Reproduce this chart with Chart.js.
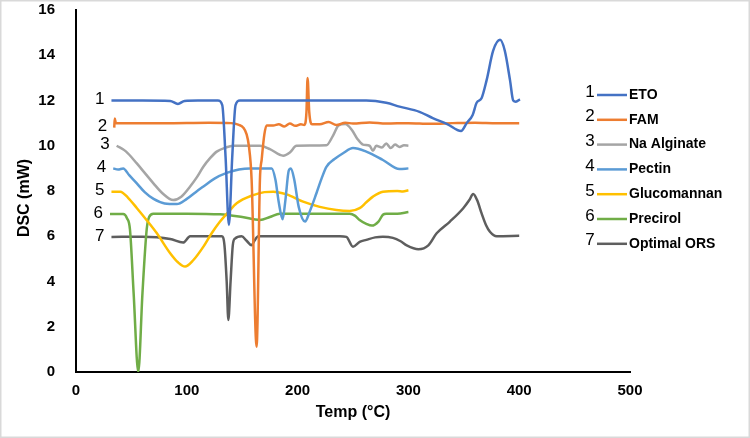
<!DOCTYPE html>
<html lang="en">
<head>
<meta charset="UTF-8">
<title>DSC thermograms</title>
<script src="https://cdn.jsdelivr.net/npm/chart.js@4.4.1/dist/chart.umd.min.js"></script>
<style>
  * { margin: 0; padding: 0; }
  body { background: #fff; width: 750px; height: 438px; overflow: hidden; }
  canvas { display: block; }
</style>
</head>
<body>
<canvas id="dsc" width="750" height="438"></canvas>
<script>
// Sample names and legend numbers
const seriesNames = ['ETO', 'FAM', 'Na Alginate', 'Pectin', 'Glucomannan', 'Precirol', 'Optimal ORS'];
const seriesNumbers = ['1', '2', '3', '4', '5', '6', '7'];
const seriesColors = ['#4472C4', '#ED7D31', '#A5A5A5', '#5B9BD5', '#FFC000', '#70AD47', '#5E5E5E'];

// Temperature (°C) / heat flow (mW)
const etoT = [32, 60, 85, 92, 98, 110, 128, 132, 135, 138, 141, 144, 148, 180, 220, 262, 280, 292, 310, 322, 335, 347.5, 352.6, 358, 361.6, 366, 370.6, 376.5, 382.7, 387, 391.7, 394.6, 397, 400.7];
const etoY = [12, 12, 11.98, 11.85, 11.98, 12, 12, 11.8, 9.5, 6.5, 9.5, 11.8, 12, 12, 12, 12, 11.9, 11.73, 11.5, 11.22, 10.96, 10.65, 11.0, 11.36, 11.9, 12.1, 12.9, 14.2, 14.68, 14.2, 12.9, 12.0, 11.95, 12.05];

const famT = [34.5, 35, 36, 80, 120, 140, 147, 151, 154, 156, 158.5, 163, 166, 167.6, 170, 172, 178, 183, 188, 193, 198, 203, 206, 208, 209, 210.5, 213, 220, 228, 235, 243, 250, 265, 280, 300, 320, 340, 360, 380, 400];
const famY = [10.8, 11.2, 11.0, 11.0, 11.02, 11.0, 10.92, 10.8, 10.5, 10.0, 8.5, 1.12, 8.5, 9.4, 10.5, 10.9, 10.9, 10.95, 10.85, 10.98, 10.88, 10.95, 10.92, 11.5, 13.0, 11.5, 10.95, 10.95, 11.05, 10.92, 11.02, 10.98, 11.03, 10.98, 11.0, 10.97, 11.0, 11.02, 11.0, 11.0];

const algT = [36.7, 45, 54.7, 62, 69.7, 78, 87.7, 95, 103, 109, 114.9, 121, 127, 135, 142, 166, 175, 187, 193, 199, 226, 232, 237, 243, 249, 254, 259, 265, 268, 271, 276, 280, 284, 288, 292, 296, 300];
const algY = [10.0, 9.75, 9.23, 8.8, 8.35, 7.9, 7.6, 7.75, 8.2, 8.6, 9.07, 9.45, 9.74, 9.92, 10.0, 10.0, 9.85, 9.56, 9.7, 10.0, 10.02, 10.45, 10.9, 10.96, 10.7, 10.3, 10.05, 10.0, 9.78, 10.0, 9.92, 10.1, 9.9, 10.05, 9.95, 10.02, 10.0];

const pecT = [33.6, 38, 42.6, 48, 54.7, 62, 70, 80, 91, 100, 108, 115, 125, 136, 147, 157, 176.6, 180, 183, 186.5, 189, 192, 194, 197, 201, 206.7, 211, 217, 222, 226, 233, 241, 250, 262, 277, 292, 300];
const pecY = [9.0, 8.95, 9.0, 8.7, 8.35, 7.95, 7.65, 7.45, 7.42, 7.65, 7.95, 8.2, 8.55, 8.8, 8.95, 9.0, 9.0, 8.5, 7.5, 6.75, 7.6, 8.9, 9.0, 8.5, 7.3, 6.65, 7.1, 7.9, 8.6, 9.07, 9.4, 9.67, 9.9, 9.74, 9.37, 8.97, 9.0];

const gluT = [32, 40, 47, 55, 64, 73, 85, 92, 98.4, 106, 115, 122, 130, 138, 145, 160, 170, 178, 190, 205, 220, 235, 247, 256, 262, 268, 277, 290, 295, 300];
const gluY = [7.97, 7.97, 7.7, 7.24, 6.7, 6.13, 5.25, 4.85, 4.66, 4.95, 5.54, 6.1, 6.65, 7.1, 7.46, 7.82, 7.95, 7.97, 7.85, 7.53, 7.3, 7.16, 7.12, 7.24, 7.5, 7.75, 7.97, 8.0, 7.98, 8.03];

const preT = [30.7, 42.6, 46, 48.7, 52, 56.2, 60, 63.8, 66, 69.8, 100, 130, 150, 166, 175, 184, 247, 252, 256, 262, 267, 273, 277, 280, 290, 300];
const preY = [6.98, 6.98, 6.8, 6.3, 3.5, 0, 3.5, 6.3, 6.85, 7.0, 7.0, 6.97, 6.85, 6.72, 6.85, 7.0, 7.0, 6.9, 6.72, 6.55, 6.47, 6.65, 6.95, 7.0, 7.0, 7.07];

const orsT = [32, 60, 85, 96.7, 103, 131.5, 134, 136, 137.5, 139.5, 141.5, 143.5, 149.5, 154, 158.5, 161, 164.5, 211, 238, 244, 250, 256, 262, 270, 277, 286, 293, 298.5, 309, 318, 325.5, 337.5, 349.5, 355, 358.5, 362, 366, 370, 373.6, 379.7, 400];
const orsY = [5.97, 5.98, 5.88, 5.72, 6.0, 6.0, 5.6, 4.0, 2.3, 4.0, 5.6, 5.9, 6.0, 5.8, 5.6, 5.8, 6.0, 6.0, 6.0, 5.97, 5.54, 5.75, 5.84, 5.95, 5.98, 5.93, 5.78, 5.6, 5.43, 5.6, 6.13, 6.65, 7.24, 7.6, 7.87, 7.6, 7.02, 6.5, 6.2, 6.0, 6.02];

// Axis ranges
const xMin = 0, xMax = 500, xStep = 100;
const yMin = 0, yMax = 16, yStep = 2;

const seriesT = [etoT, famT, algT, pecT, gluT, preT, orsT];
const seriesY = [etoY, famY, algY, pecY, gluY, preY, orsY];

const tickFont = { family: "'Liberation Sans', Arial, sans-serif", size: 15, weight: 'bold' };

const datasets = seriesNames.map((name, i) => ({
  label: name,
  data: seriesT[i].map((t, j) => ({ x: t, y: seriesY[i][j] })),
  borderColor: seriesColors[i],
  backgroundColor: seriesColors[i],
  borderWidth: 2.5,
  pointRadius: 0,
  showLine: true,
  cubicInterpolationMode: 'monotone'
}));

// Draws the curve numbers, the numbered legend, axis titles and the frame
const annotations = {
  id: 'annotations',
  beforeDraw(chart) {
    const c = chart.ctx;
    c.save();
    c.fillStyle = '#fff';
    c.fillRect(0, 0, chart.width, chart.height);
    c.restore();
  },
  afterDraw(chart) {
    const c = chart.ctx;
    const xs = chart.scales.x, ys = chart.scales.y;
    c.save();
    // numbers at the start of each curve
    c.font = "17px 'Liberation Sans', Arial, sans-serif";
    c.fillStyle = '#000';
    c.textAlign = 'right';
    c.textBaseline = 'middle';
    seriesNumbers.forEach((n, i) => {
      c.fillText(n, xs.getPixelForValue(seriesT[i][0]) - 7, ys.getPixelForValue(seriesY[i][0]) - 1);
    });

    // legend
    seriesNames.forEach((name, i) => {
      const y = 95 + i * 24.8;
      c.font = "17px 'Liberation Sans', Arial, sans-serif";
      c.textAlign = 'center';
      c.fillStyle = '#000';
      c.fillText(seriesNumbers[i], 590, y - 3);
      c.strokeStyle = seriesColors[i];
      c.lineWidth = 2.5;
      c.beginPath();
      c.moveTo(597, y);
      c.lineTo(627, y);
      c.stroke();
      c.font = "bold 14px 'Liberation Sans', Arial, sans-serif";
      c.textAlign = 'left';
      c.fillText(name, 629, y);
    });

    // axis titles
    c.font = "bold 16px 'Liberation Sans', Arial, sans-serif";
    c.textAlign = 'center';
    c.fillText('Temp (°C)', (xs.left + xs.right) / 2, 413);
    c.translate(25, 198);
    c.rotate(-Math.PI / 2);
    c.fillText('DSC (mW)', 0, 0);
    c.restore();

    // outer frame
    c.save();
    c.strokeStyle = '#d9d9d9';
    c.lineWidth = 1.5;
    c.strokeRect(0.75, 0.75, chart.width - 1.5, chart.height - 1.5);
    c.restore();
  }
};

new Chart(document.getElementById('dsc').getContext('2d'), {
  type: 'scatter',
  data: { datasets },
  options: {
    responsive: false,
    animation: false,
    layout: { autoPadding: false, padding: { top: 10, right: 120, left: 0, bottom: 0 } },
    scales: {
      x: {
        type: 'linear',
        min: xMin, max: xMax,
        ticks: { stepSize: xStep, padding: 2, color: '#000', font: tickFont },
        grid: { display: false },
        border: { color: '#000', width: 2 },
        afterFit(s) { s.height = 66; s.paddingLeft = 0; s.paddingRight = 0; }
      },
      y: {
        min: yMin, max: yMax,
        ticks: { stepSize: yStep, padding: 13, color: '#000', font: tickFont },
        grid: { display: false },
        border: { color: '#000', width: 2 },
        afterFit(s) { s.width = 76; s.paddingTop = 0; s.paddingBottom = 0; }
      }
    },
    plugins: {
      legend: { display: false },
      tooltip: { enabled: false }
    }
  },
  plugins: [annotations]
});
</script>
</body>
</html>
